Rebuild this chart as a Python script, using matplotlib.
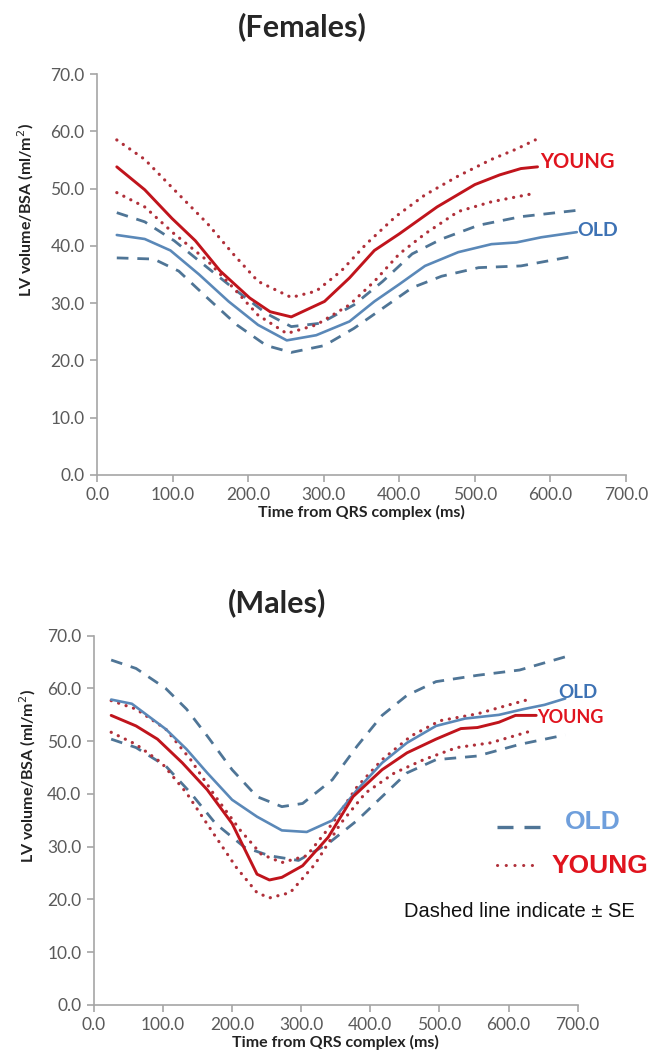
import matplotlib
matplotlib.use("Agg")
import matplotlib.pyplot as plt

# ---------------- Data: Females ----------------
f_young_x = [26, 63, 99, 130, 163, 202, 229, 257, 301, 334, 367, 400, 450, 500, 533, 561, 583]
f_young = [53.8, 49.8, 44.8, 40.9, 35.6, 30.9, 28.5, 27.6, 30.3, 34.4, 39.2, 42.1, 46.8, 50.7, 52.4, 53.5, 53.8]
f_young_up_x = [26, 63, 102, 146, 180, 213, 257, 290, 323, 356, 395, 434, 478, 522, 555, 580]
f_young_up = [58.5, 55.1, 49.8, 43.9, 38.6, 33.8, 31.0, 32.1, 35.6, 40.3, 45.1, 48.9, 52.2, 55.1, 56.9, 58.5]
f_young_lo_x = [26, 63, 102, 146, 180, 213, 251, 290, 334, 367, 400, 434, 478, 522, 580]
f_young_lo = [49.3, 46.8, 42.1, 37.4, 32.7, 27.9, 24.7, 26.2, 29.7, 33.8, 38.6, 42.1, 46.0, 47.7, 49.2]

f_old_x = [26, 63, 97, 135, 174, 213, 251, 290, 334, 367, 400, 434, 478, 522, 555, 588, 635]
f_old = [41.9, 41.2, 39.2, 35.0, 30.3, 26.2, 23.5, 24.4, 26.8, 30.3, 33.3, 36.5, 38.9, 40.3, 40.6, 41.5, 42.4]
f_old_up_x = [26, 63, 102, 146, 185, 224, 257, 296, 340, 378, 417, 456, 505, 561, 635]
f_old_up = [45.8, 44.2, 40.9, 36.2, 32.1, 28.2, 25.9, 26.5, 29.7, 33.8, 38.6, 41.2, 43.6, 45.1, 46.2]
f_old_lo_x = [26, 75, 108, 146, 185, 224, 257, 301, 340, 378, 417, 456, 505, 561, 635]
f_old_lo = [37.9, 37.7, 35.6, 30.9, 26.2, 22.6, 21.4, 22.6, 25.6, 29.1, 32.7, 34.7, 36.2, 36.5, 38.3]

# ---------------- Data: Males ----------------
m_old_x = [25, 55, 104, 134, 164, 200, 236, 272, 308, 345, 381, 417, 453, 495, 537, 586, 622, 652, 682]
m_old = [57.9, 57.1, 52.3, 48.5, 44.0, 38.9, 35.7, 33.1, 32.8, 35.0, 40.8, 45.9, 49.7, 52.9, 54.3, 55.0, 56.1, 56.9, 58.1]
m_old_up_x = [25, 61, 104, 134, 164, 200, 236, 272, 302, 345, 381, 417, 453, 495, 555, 616, 682]
m_old_up = [65.4, 63.8, 60.0, 56.1, 51.0, 44.6, 39.5, 37.6, 38.2, 42.7, 49.1, 54.9, 58.7, 61.3, 62.5, 63.5, 66.0]
m_old_lo_x = [25, 61, 104, 140, 176, 218, 254, 296, 339, 381, 417, 453, 495, 555, 616, 682]
m_old_lo = [50.4, 48.8, 45.3, 40.2, 34.4, 29.9, 28.3, 27.4, 30.6, 35.0, 39.5, 44.0, 46.5, 47.2, 49.4, 51.2]

m_young_x = [25, 61, 92, 128, 164, 200, 224, 236, 254, 272, 302, 339, 375, 417, 453, 495, 531, 555, 586, 610, 640]
m_young = [54.9, 52.9, 50.4, 45.9, 40.8, 34.4, 28.0, 24.8, 23.7, 24.2, 26.4, 31.8, 39.5, 44.6, 47.8, 50.4, 52.4, 52.6, 53.6, 54.9, 54.9]
m_young_up_x = [25, 61, 104, 140, 176, 212, 242, 272, 308, 345, 381, 417, 459, 501, 555, 598, 634]
m_young_up = [57.7, 56.1, 52.3, 46.5, 39.5, 33.1, 28.6, 27.0, 28.3, 34.4, 41.4, 46.5, 51.0, 53.9, 55.2, 56.8, 58.1]
m_young_lo_x = [25, 61, 98, 134, 170, 206, 236, 254, 284, 320, 357, 393, 435, 477, 525, 574, 634]
m_young_lo = [51.7, 49.4, 45.9, 40.2, 33.1, 26.1, 21.3, 20.3, 21.3, 26.7, 34.4, 40.2, 44.0, 46.5, 48.8, 49.7, 52.0]

x_ticks = [0, 100, 200, 300, 400, 500, 600, 700]
y_ticks = [0, 10, 20, 30, 40, 50, 60, 70]

# ---------------- Styles ----------------
RED = "#c0141c"
RED_DOT = "#b0303a"
BLUE = "#5a88b8"
BLUE_DASH = "#4f7596"
LBL_FONT = "Lato"

fig = plt.figure(figsize=(6.52, 10.55), dpi=100)
fig.patch.set_facecolor("white")

ax_f = fig.add_axes([0.149, 0.5498, 0.811, 0.380])
ax_m = fig.add_axes([0.144, 0.0474, 0.742, 0.350])

dash_style = (0, (4.2, 3.2))
dot_style = (0, (0.05, 2.4))


def style_axes(ax, label_y):
    ax.set_xlim(0, 700)
    ax.set_ylim(0, 70)
    ax.set_xticks(x_ticks)
    ax.set_yticks(y_ticks)
    ax.set_xticklabels([f"{v:.1f}" for v in x_ticks])
    ax.set_yticklabels([f"{v:.1f}" for v in y_ticks])
    for s in ["top", "right"]:
        ax.spines[s].set_visible(False)
    for s in ["left", "bottom"]:
        ax.spines[s].set_color("#a6a6a6")
        ax.spines[s].set_linewidth(1.2)
    ax.tick_params(axis="both", colors="#a6a6a6", length=5, width=1.2,
                   labelcolor="#5a5a5a", labelsize=12.5, pad=4)
    for t in ax.get_xticklabels() + ax.get_yticklabels():
        t.set_fontfamily(LBL_FONT)
    ax.set_xlabel("Time from QRS complex (ms)", fontsize=11.5, fontweight="bold",
                  fontfamily=LBL_FONT, color="#222222", labelpad=1)
    ax.set_ylabel("LV volume/BSA (ml/m$^2$)", fontsize=11.5, fontweight="bold",
                  fontfamily=LBL_FONT, color="#222222")
    ax.yaxis.set_label_coords(-0.115, label_y)


def draw(ax, ox, o, oux, ou, olx, ol, yx, y, yux, yu, ylx, yl):
    ax.plot(oux, ou, color=BLUE_DASH, lw=2.0, ls=dash_style)
    ax.plot(olx, ol, color=BLUE_DASH, lw=2.0, ls=dash_style)
    ax.plot(yux, yu, color=RED_DOT, lw=2.3, ls=dot_style, dash_capstyle="round")
    ax.plot(ylx, yl, color=RED_DOT, lw=2.3, ls=dot_style, dash_capstyle="round")
    ax.plot(ox, o, color=BLUE, lw=1.9, solid_capstyle="round")
    ax.plot(yx, y, color=RED, lw=2.1, solid_capstyle="round")


# Females
draw(ax_f, f_old_x, f_old, f_old_up_x, f_old_up, f_old_lo_x, f_old_lo,
     f_young_x, f_young, f_young_up_x, f_young_up, f_young_lo_x, f_young_lo)
style_axes(ax_f, 0.66)
ax_f.text(586, 54.6, "YOUNG", color="#e0141e", fontsize=14.5, fontweight="bold",
          fontfamily=LBL_FONT, va="center", ha="left", clip_on=False)
ax_f.text(636, 42.6, "OLD", color="#3d72b4", fontsize=14, fontweight="bold",
          fontfamily=LBL_FONT, va="center", ha="left", clip_on=False)

# Males
draw(ax_m, m_old_x, m_old, m_old_up_x, m_old_up, m_old_lo_x, m_old_lo,
     m_young_x, m_young, m_young_up_x, m_young_up, m_young_lo_x, m_young_lo)
style_axes(ax_m, 0.62)
ax_m.text(672, 59.2, "OLD", color="#3d72b4", fontsize=13.5, fontweight="bold",
          fontfamily=LBL_FONT, va="center", ha="left", clip_on=False)
ax_m.text(642, 54.5, "YOUNG", color="#e0141e", fontsize=13, fontweight="bold",
          fontfamily=LBL_FONT, va="center", ha="left", clip_on=False)

# Legend (manual, as in the original figure)
ax_m.plot([583, 645], [33.8, 33.8], color=BLUE_DASH, lw=2.4, ls=(0, (4.8, 3.3)), clip_on=False)
ax_m.plot([583, 645], [26.6, 26.6], color=RED_DOT, lw=2.2, ls=(0, (0.05, 2.8)),
          dash_capstyle="round", clip_on=False)
ax_m.text(682, 34.6, "OLD", color="#6f9fdc", fontsize=19, fontweight="bold",
          fontfamily="Liberation Sans", va="center", ha="left", clip_on=False)
ax_m.text(662, 26.4, "YOUNG", color="#e0141e", fontsize=19, fontweight="bold",
          fontfamily="Liberation Sans", va="center", ha="left", clip_on=False)
ax_m.text(448, 17.8, "Dashed line indicate ± SE", color="#111111", fontsize=14.5,
          fontfamily="Liberation Sans", va="center", ha="left", clip_on=False)

# Titles
fig.text(302 / 652, 1 - 27 / 1055, "(Females)", fontsize=22, fontweight="bold",
         fontfamily=LBL_FONT, color="#262626", ha="center", va="center")
fig.text(277 / 652, 1 - 603 / 1055, "(Males)", fontsize=22, fontweight="bold",
         fontfamily=LBL_FONT, color="#262626", ha="center", va="center")

fig.savefig("out.png", dpi=100, facecolor="white")
